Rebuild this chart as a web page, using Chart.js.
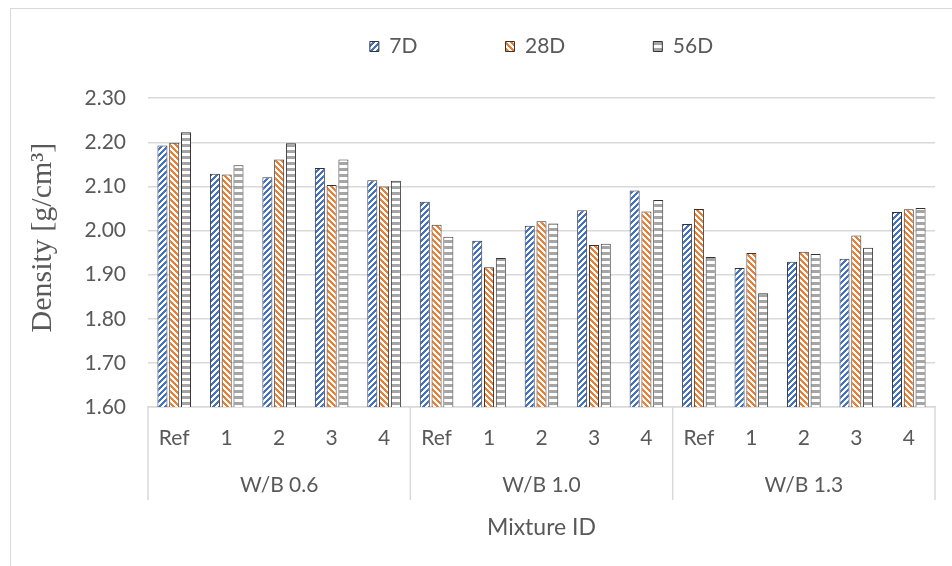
<!DOCTYPE html>
<html lang="en">
  <head>
    <meta charset="UTF-8" />
    <title>Density by mixture</title>
    <script src="https://cdn.jsdelivr.net/npm/chart.js"></script>
    <style>
      body { margin: 0; background: #fff; }
      #wrap { position: relative; width: 952px; height: 566px; overflow: hidden; }
      #frame {
        position: absolute; left: 10px; top: 8px; width: 1000px; height: 600px;
        border: 1.5px solid #d9d9d9; box-sizing: border-box;
      }
      canvas { position: absolute; left: 0; top: 0; }
    </style>
  </head>
  <body>
    <div id="wrap">
      <div id="frame"></div>
      <canvas id="myChart" width="952" height="566"></canvas>
    </div>

    <script>
      const mixtures = ["Ref", "1", "2", "3", "4", "Ref", "1", "2", "3", "4", "Ref", "1", "2", "3", "4"];
      const groups = ["W/B 0.6", "W/B 1.0", "W/B 1.3"];
      const seriesNames = ["7D", "28D", "56D"];
      const yTitle = "Density [g/cm³]";

      const days7 = [2.193, 2.129, 2.121, 2.142, 2.114, 2.065, 1.977, 2.011, 2.046, 2.091, 2.015, 1.915, 1.929, 1.936, 2.042];
      const days28 = [2.199, 2.127, 2.161, 2.103, 2.1, 2.013, 1.917, 2.021, 1.967, 2.043, 2.049, 1.949, 1.952, 1.989, 2.048];
      const days56 = [2.223, 2.148, 2.198, 2.161, 2.113, 1.986, 1.938, 2.016, 1.97, 2.069, 1.94, 1.858, 1.947, 1.961, 2.051];

      const grey = "#595959";
      const ctx = document.getElementById("myChart").getContext("2d");

      // excel-like hatch fills
      function hatch(color, kind) {
        const size = 6;
        const c = document.createElement("canvas");
        c.width = size;
        c.height = size;
        const g = c.getContext("2d");
        g.fillStyle = "#fff";
        g.fillRect(0, 0, size, size);
        g.fillStyle = color;
        for (let y = 0; y < size; y++) {
          for (let x = 0; x < size; x++) {
            let on;
            if (kind === "up") on = (x + y) % size < size / 2;
            else if (kind === "down") on = (((x - y) % size) + size) % size < size / 2;
            else on = y < size / 2;
            if (on) g.fillRect(x, y, 1, 1);
          }
        }
        return ctx.createPattern(c, "repeat");
      }

      // group boxes under the category labels + y title (sits a bit above center like excel)
      const groupBoxes = {
        id: "groupBoxes",
        afterDraw(chart) {
          const { chartArea, scales } = chart;
          const x = scales.x;
          const c = chart.ctx;
          const per = mixtures.length / groups.length;
          const edges = [chartArea.left];
          for (let g = 1; g < groups.length; g++) {
            edges.push((x.getPixelForValue(g * per - 1) + x.getPixelForValue(g * per)) / 2);
          }
          edges.push(chartArea.right);
          c.save();
          c.strokeStyle = "#d9d9d9";
          c.lineWidth = 1.5;
          edges.forEach((px) => {
            c.beginPath();
            c.moveTo(px, chartArea.bottom);
            c.lineTo(px, chartArea.bottom + 93);
            c.stroke();
          });
          c.fillStyle = grey;
          c.font = "21px Lato";
          c.textAlign = "center";
          c.textBaseline = "middle";
          groups.forEach((name, g) => {
            const cx = (x.getPixelForValue(g * per) + x.getPixelForValue(g * per + per - 1)) / 2;
            c.fillText(name, cx, chartArea.bottom + 78);
          });

          c.translate(43, (chartArea.top + chartArea.bottom) / 2 - 15);
          c.rotate(-Math.PI / 2);
          c.font = "30px 'Liberation Serif'";
          c.fillText(yTitle, 0, 0);
          c.restore();
        },
      };

      const myChart = new Chart(ctx, {
        type: "bar",
        data: {
          labels: mixtures,
          datasets: [
            { label: seriesNames[0], data: days7, backgroundColor: hatch("#4472C4", "up") },
            { label: seriesNames[1], data: days28, backgroundColor: hatch("#ED7D31", "down") },
            { label: seriesNames[2], data: days56, backgroundColor: hatch("#A5A5A5", "flat") },
          ].map((d) => ({
            ...d,
            borderColor: "#333",
            borderWidth: 1,
            categoryPercentage: 0.674,
            barPercentage: 0.85,
          })),
        },
        options: {
          responsive: false,
          animation: false,
          layout: { padding: { top: -52, left: 0, right: 17, bottom: 0 } },
          plugins: {
            legend: {
              position: "top",
              fullSize: false,
              labels: {
                boxWidth: 9,
                boxHeight: 10,
                padding: 88,
                color: grey,
                font: { family: "Lato", size: 21 },
              },
            },
            // empty spacer between legend and plot
            subtitle: {
              display: true,
              text: "",
              position: "top",
              weight: 500,
              fullSize: false,
              font: { size: 1 },
              padding: { top: 0, bottom: 30 },
            },
            tooltip: { enabled: false },
          },
          scales: {
            x: {
              grid: { display: false },
              border: { color: "#d9d9d9", width: 1.5 },
              ticks: {
                autoSkip: false,
                maxRotation: 0,
                padding: 11,
                color: grey,
                font: { family: "Lato", size: 21 },
              },
              title: {
                display: true,
                text: "Mixture ID",
                color: grey,
                font: { family: "Lato", size: 23 },
                padding: { top: 25, bottom: 25 },
              },
              afterFit(scale) {
                scale.height = 159;
              },
            },
            y: {
              min: 1.6,
              max: 2.3,
              grid: { color: "#d9d9d9", lineWidth: 1.5, drawTicks: false },
              border: { display: false },
              ticks: {
                stepSize: 0.1,
                padding: 22,
                color: grey,
                font: { family: "Lato", size: 21 },
                callback: (v) => v.toFixed(2),
              },
              afterFit(scale) {
                scale.width = 148;
              },
            },
          },
        },
        plugins: [groupBoxes],
      });
    </script>
  </body>
</html>
